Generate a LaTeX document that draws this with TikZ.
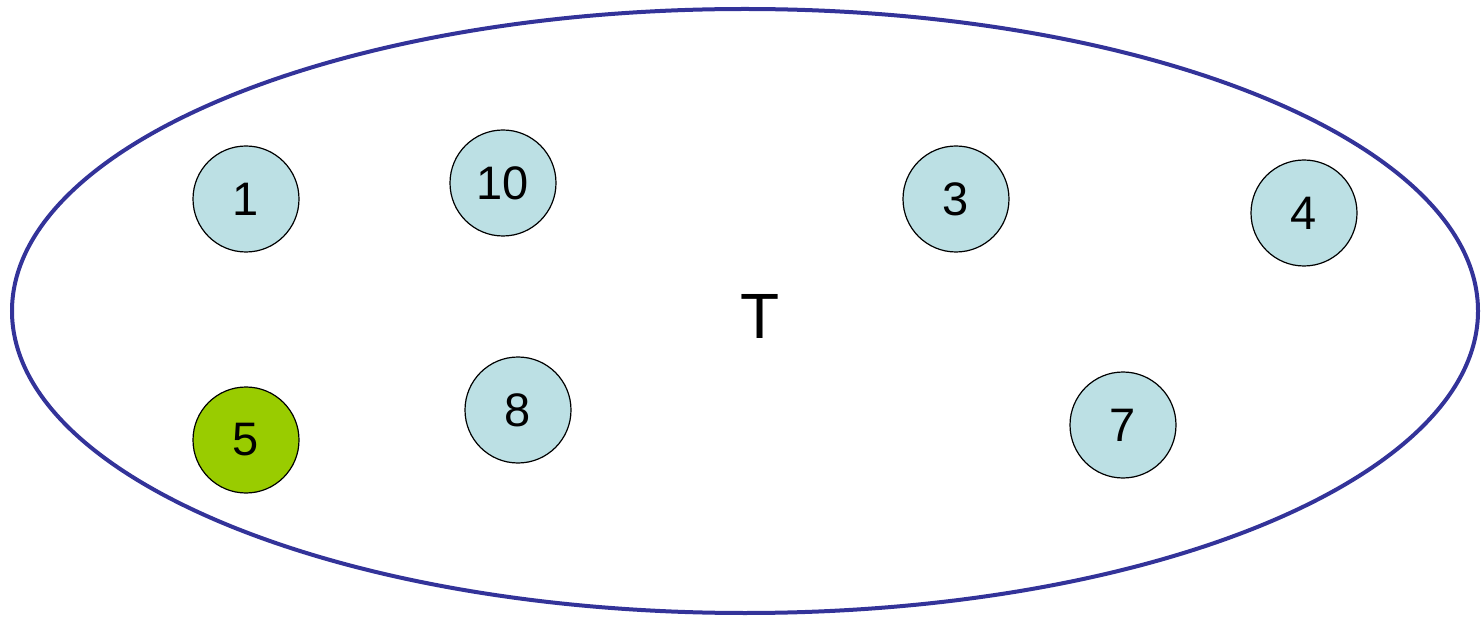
\documentclass[tikz,border=0pt]{standalone}
\usepackage{fontspec}
\setmainfont{Liberation Sans}
\definecolor{ringblue}{RGB}{51,51,153}
\definecolor{nodeblue}{RGB}{188,224,228}
\definecolor{nodegreen}{RGB}{153,204,0}
\begin{document}
\begin{tikzpicture}[x=1pt,y=-1pt,
  item/.style={circle,draw=black,line width=1.2pt,fill=nodeblue,minimum size=106pt,inner sep=0pt,font=\fontsize{47}{50}\selectfont},
  itemgreen/.style={item,fill=nodegreen}]
\useasboundingbox (0,0) rectangle (1483,617);
\draw[ringblue,line width=4pt] (745,311) ellipse [x radius=733, y radius=302];
\node (T) at (760,316) {\fontsize{64}{68}\selectfont T};
\node[item] (n1) at (246,199) {1};
\node[item] (n10) at (503,183) {10};
\node[item] (n3) at (956,199) {3};
\node[item] (n4) at (1304,213) {4};
\node[itemgreen] (n5) at (246,440) {5};
\node[item] (n8) at (518,410) {8};
\node[item] (n7) at (1123,425) {7};
\end{tikzpicture}
\end{document}
